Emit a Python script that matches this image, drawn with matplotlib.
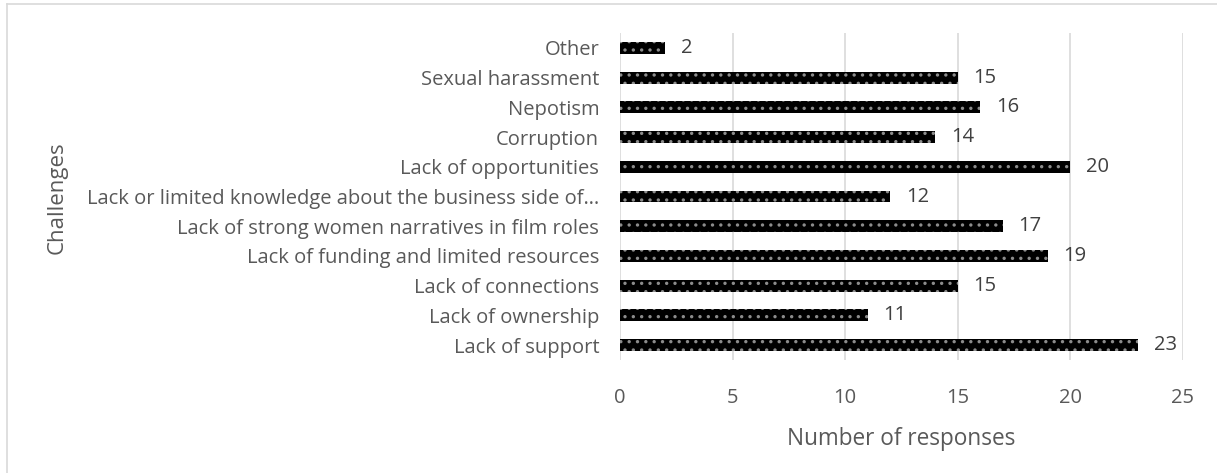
import matplotlib
matplotlib.use("Agg")
import matplotlib.pyplot as plt
from matplotlib.lines import Line2D

plt.rcParams['font.family'] = ['Open Sans', 'DejaVu Sans']
plt.rcParams['hatch.linewidth'] = 1.2

challenges = [
    "Lack of support",
    "Lack of ownership",
    "Lack of connections",
    "Lack of funding and limited resources",
    "Lack of strong women narratives in film roles",
    "Lack or limited knowledge about the business side of\u2026",
    "Lack of opportunities",
    "Corruption",
    "Nepotism",
    "Sexual harassment",
    "Other",
]
responses = [23, 11, 15, 19, 17, 12, 20, 14, 16, 15, 2]
x_ticks = [0, 5, 10, 15, 20, 25]

fig = plt.figure(figsize=(12.17, 4.73), dpi=100)
ax = fig.add_axes([0.5095, 0.239, 0.4625, 0.691])

bars = ax.barh(range(len(challenges)), responses, height=0.4,
               color='black', edgecolor='#8c8c8c', hatch='..', linewidth=0,
               zorder=3)

for i, v in enumerate(responses):
    ax.text(v + 0.7, i, str(v), va='center', ha='left',
            fontsize=14.5, color='#404040')

ax.set_xlim(0, 25)
ax.set_ylim(-0.5, len(challenges) - 0.5)
ax.set_xticks(x_ticks)
ax.set_yticks(range(len(challenges)))
ax.set_yticklabels(challenges)
ax.tick_params(axis='both', length=0, labelsize=14.5, colors='#595959')
ax.tick_params(axis='x', pad=20)
ax.tick_params(axis='y', pad=15)
ax.grid(axis='x', color='#d9d9d9', linewidth=1.2, zorder=0)
for s in ax.spines.values():
    s.set_visible(False)

ax.set_xlabel("Number of responses", fontsize=16.3, color='#595959', labelpad=14)
fig.text(57 / 1217, 1 - 198 / 473, "Challenges", rotation=90,
         ha='center', va='center', fontsize=16, color='#595959')

# chart frame, left and top edges
fig.add_artist(Line2D([7 / 1217, 7 / 1217], [0, 1 - 4 / 473],
                      transform=fig.transFigure, color='#d9d9d9', linewidth=1.2))
fig.add_artist(Line2D([7 / 1217, 1], [1 - 4 / 473, 1 - 4 / 473],
                      transform=fig.transFigure, color='#d9d9d9', linewidth=1.2))

fig.savefig("out.png", dpi=100)
